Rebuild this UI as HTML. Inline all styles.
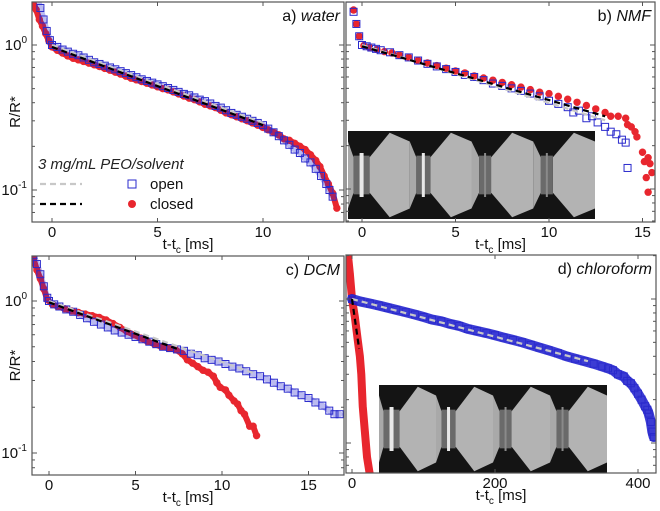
<!DOCTYPE html>
<html><head><meta charset="utf-8"><style>
body{margin:0;background:#fff;}
svg{display:block;font-family:"Liberation Sans",sans-serif;}
</style></head><body>
<svg id="fig" width="660" height="511" viewBox="0 0 660 511"></svg>
<script>
// ---- data (t in ms, R/R*) ----
const aOpenT=[-0.7,-0.55,-0.4,-0.25,-0.1,0,0.25,0.5,0.75,1,1.25,1.5,1.75,2,2.25,2.5,2.75,3,3.25,3.5,3.75,4,4.25,4.5,4.75,5,5.25,5.5,5.75,6,6.25,6.5,6.75,7,7.25,7.5,7.75,8,8.25,8.5,8.75,9,9.25,9.5,9.75,10,10.25,10.5,10.75,11,11.25,11.5,11.75,12,12.25,12.5,12.75,13,13.15,13.3];
const aOpenR=[2.1,1.8,1.5,1.25,1.08,1.0,0.97,0.93,0.9,0.87,0.85,0.82,0.79,0.76,0.74,0.72,0.70,0.68,0.66,0.64,0.62,0.60,0.58,0.565,0.55,0.535,0.52,0.505,0.49,0.475,0.46,0.45,0.435,0.42,0.41,0.395,0.38,0.37,0.355,0.34,0.33,0.32,0.31,0.30,0.29,0.28,0.265,0.25,0.235,0.22,0.205,0.19,0.18,0.165,0.155,0.14,0.125,0.11,0.10,0.09];
const aClosedT=[-0.9,-0.75,-0.6,-0.45,-0.3,-0.15,0,0.25,0.5,0.75,1,1.25,1.5,1.75,2,2.25,2.5,2.75,3,3.25,3.5,3.75,4,4.25,4.5,4.75,5,5.25,5.5,5.75,6,6.25,6.5,6.75,7,7.25,7.5,7.75,8,8.25,8.5,8.75,9,9.25,9.5,9.75,10,10.25,10.5,10.75,11,11.25,11.5,11.75,12,12.25,12.5,12.7,12.9,13.1,13.3,13.5];
const aClosedR=[2.0,1.75,1.5,1.35,1.2,1.07,0.97,0.92,0.88,0.84,0.81,0.79,0.77,0.75,0.73,0.71,0.69,0.67,0.65,0.63,0.61,0.59,0.575,0.56,0.545,0.53,0.515,0.50,0.49,0.475,0.46,0.445,0.43,0.42,0.405,0.39,0.38,0.37,0.355,0.34,0.33,0.32,0.31,0.30,0.29,0.28,0.27,0.26,0.25,0.24,0.225,0.22,0.21,0.20,0.19,0.175,0.16,0.145,0.125,0.11,0.095,0.075];
const bOpenT=[-0.6,-0.45,-0.3,-0.15,0,0.25,0.5,0.75,1,1.5,2,2.5,3,3.5,4,4.5,5,5.5,6,6.5,7,7.5,8,8.5,9,9.5,10,10.5,11,11.3,11.6,12,12.3,12.6,13,13.3,13.6,13.9,14.1,14.2];
const bOpenR=[2.1,1.7,1.4,1.15,1.0,0.98,0.96,0.94,0.92,0.89,0.85,0.82,0.78,0.74,0.71,0.68,0.65,0.62,0.60,0.57,0.54,0.52,0.50,0.48,0.46,0.44,0.41,0.39,0.37,0.34,0.35,0.31,0.32,0.29,0.27,0.25,0.24,0.22,0.21,0.14];
const bClosedT=[-0.6,-0.45,-0.3,-0.15,0.1,0.4,0.8,1.2,1.6,2,2.5,3,3.5,4,4.5,5,5.5,6,6.5,7,7.5,8,8.5,9,9.5,10,10.5,11,11.5,12,12.5,13,13.3,13.7,14.1,14.4,14.2,14.6,14.7,15,15.3,15.1,15.4,15.2,15.5,15.3,15.9];
const bClosedR=[2.2,1.75,1.4,1.15,0.99,0.96,0.93,0.90,0.88,0.85,0.82,0.78,0.75,0.72,0.69,0.66,0.64,0.61,0.59,0.57,0.55,0.53,0.51,0.49,0.47,0.46,0.44,0.42,0.40,0.38,0.36,0.34,0.32,0.32,0.31,0.27,0.28,0.25,0.23,0.18,0.165,0.155,0.15,0.12,0.13,0.095,0.082];
const cOpenT=[-0.9,-0.7,-0.5,-0.3,-0.1,0,0.3,0.6,1,1.4,1.8,2.2,2.6,3,3.4,3.8,4.2,4.6,5,5.4,5.8,6.2,6.6,7,7.4,7.8,8.2,8.6,9,9.4,9.8,10.2,10.6,11,11.4,11.8,12.2,12.6,13,13.4,13.8,14.2,14.6,15,15.4,15.8,16.2,16.5,16.8];
const cOpenR=[2.0,1.75,1.5,1.25,1.05,1.0,0.95,0.92,0.88,0.85,0.81,0.77,0.73,0.70,0.67,0.64,0.62,0.60,0.58,0.56,0.54,0.52,0.50,0.49,0.48,0.47,0.45,0.44,0.42,0.41,0.40,0.385,0.37,0.36,0.345,0.33,0.32,0.305,0.29,0.275,0.265,0.25,0.24,0.23,0.215,0.205,0.19,0.18,0.18];
const cClosedT=[-0.9,-0.7,-0.5,-0.3,-0.1,0.2,0.5,0.9,1.3,1.7,2.1,2.5,2.9,3.3,3.7,4.1,4.5,4.9,5.3,5.7,6.1,6.5,6.9,7.3,7.7,8,8.3,8.6,8.9,9.2,9.5,9.7,9.9,10.2,10.4,10.7,10.9,11.1,11.3,11.6,11.8,12];
const cClosedR=[1.9,1.6,1.4,1.2,1.02,0.95,0.92,0.89,0.86,0.84,0.82,0.80,0.78,0.75,0.71,0.67,0.63,0.60,0.57,0.54,0.52,0.50,0.49,0.48,0.45,0.41,0.39,0.37,0.35,0.34,0.32,0.29,0.27,0.26,0.24,0.22,0.21,0.19,0.18,0.15,0.15,0.13];
const dOpenT=[0,12,25,38,50,62,75,88,100,112,125,138,150,162,175,188,200,212,225,238,250,262,275,288,300,312,325,338,350,358,365,372,380,385,390,395,400,405,410,413,415,418,420,422];
const dOpenR=[1.0,0.96,0.93,0.90,0.87,0.84,0.81,0.78,0.75,0.72,0.70,0.67,0.65,0.62,0.60,0.58,0.56,0.54,0.52,0.50,0.48,0.46,0.44,0.42,0.40,0.385,0.37,0.355,0.34,0.33,0.32,0.30,0.29,0.27,0.26,0.24,0.22,0.20,0.18,0.17,0.16,0.14,0.12,0.11];
const dClosedT=[-5.6,-3,0,4,8,11,13,15,18,21,25];
const dClosedR=[2.0,1.5,1.0,0.75,0.52,0.40,0.30,0.18,0.12,0.08,0.06];
const fitsGray=[[0,1.0,10,0.29],[0,1.0,13,0.30],[0,1.0,12,0.33],[0,1.0,330,0.37]];
const fitsBlack=[[0,0.97,10,0.28],[0,0.98,13,0.32],[0,0.98,7.5,0.48],[0,1.0,10,0.45]];
const xTicks=[[0,5,10],[0,5,10,15],[0,5,10,15],[0,200,400]];
const titles=["a) ","b) ","c) ","d) "];
const solvents=["water","NMF","DCM","chloroform"];

const NS="http://www.w3.org/2000/svg";
const svg=document.getElementById('fig');
function mk(tag,attrs,parent){const e=document.createElementNS(NS,tag);for(const k in attrs)e.setAttribute(k,attrs[k]);(parent||svg).appendChild(e);return e;}

const panels=[
 {x0:32,x1:344,y0:2,y1:222,tA:0,pA:52,tB:10,pB:263,rA:45,rB:190,open:[aOpenT,aOpenR],closed:[aClosedT,aClosedR],ylab:true,bo:[6,0.3],bc:[6,1]},
 {x0:346,x1:655,y0:2,y1:222,tA:0,pA:362,tB:10,pB:549,rA:45,rB:189,open:[bOpenT,bOpenR],closed:[bClosedT,bClosedR],ylab:false,bo:null,bc:null},
 {x0:32,x1:344,y0:256,y1:475,tA:0,pA:49,tB:10,pB:222,rA:301,rB:453,open:[cOpenT,cOpenR],closed:[cClosedT,cClosedR],ylab:true,bo:[6,0.3],bc:[6,1]},
 {x0:346,x1:656,y0:255,y1:473,tA:0,pA:352,tB:400,pB:638,rA:299,rB:443,open:[dOpenT,dOpenR],closed:[dClosedT,dClosedR],ylab:false,bo:[10,0.85],bc:[8,1]}
];

function inset(g,x,y,w,h,n){
 const ig=mk('g',{},g);
 
 
 mk('rect',{x:x,y:y,width:w,height:h,fill:'#141414'},ig);
 const fw=w/n;
 for(let i=0;i<n;i++){
  const fx=x+i*fw;
  const nx=fx+fw*0.22;
  const nw=[4,3,2,2][i];
  mk('polygon',{points:`${fx},${y+h*0.12} ${nx-nw-4},${y+h*0.3} ${nx-nw-4},${y+h*0.7} ${fx},${y+h*0.88}`,fill:'#a9a9a9'},ig);
  const bl=nx+nw+4, br=fx+fw;
  mk('polygon',{points:`${bl},${y+h*0.3} ${(bl+br)/2},${y+h*0.02} ${br},${y+h*0.12} ${br},${y+h*0.88} ${(bl+br)/2},${y+h*0.98} ${bl},${y+h*0.7}`,fill:'#b3b3b3'},ig);
  mk('rect',{x:nx-nw-4,y:y+h*0.28,width:2*nw+8,height:h*0.44,fill:'#6a6a6a'},ig);
  mk('rect',{x:nx-nw/2,y:y+h*0.25,width:nw,height:h*0.5,fill:i<2?'#e8e8e8':'#8a8a8a'},ig);
 }
}

panels.forEach((p,i)=>{
 const g=mk('g',{});
 
 
 const X=t=>p.pA+(t-p.tA)*(p.pB-p.pA)/(p.tB-p.tA);
 const Y=r=>p.rA+(Math.log10(r)-0)*(p.rB-p.rA)/(-1);
 const clip='clip'+i;
 const cp=mk('clipPath',{id:clip},g);
 mk('rect',{x:p.x0,y:p.y0,width:p.x1-p.x0,height:p.y1-p.y0},cp);
 const plot=mk('g',{'clip-path':`url(#${clip})`},g);
 if(i==1) inset(plot,348,131,247,88,4);
 if(i==3) inset(plot,379,385,228,88,4);
 const band=(T,R,col,w,op)=>{const pts=T.map((t,k)=>X(t)+','+Y(R[k])).join(' ');
   return mk('polyline',{points:pts,fill:'none',stroke:col,'stroke-width':w,'stroke-opacity':op,'stroke-linejoin':'round','stroke-linecap':'round'},plot);};
 if(p.bc){
  const cb=band(p.closed[0],p.closed[1],'#e8262e',p.bc[0],p.bc[1]);
  
  
 }
 p.closed[0].forEach((t,k)=>{const c=mk('circle',{cx:X(t),cy:Y(p.closed[1][k]),r:3.7,fill:'#e8262e'},plot);
  
  });
 if(p.bo){
  const ob=band(p.open[0],p.open[1],'#1a1acc',p.bo[0],p.bo[1]);
  
  
 }
 p.open[0].forEach((t,k)=>{const s=mk('rect',{x:X(t)-3.5,y:Y(p.open[1][k])-3.5,width:7,height:7,fill:'none',stroke:'#2a2acc','stroke-width':1},plot);
  
  });
 const fg=fitsGray[i],fb=fitsBlack[i];
 const l1=mk('line',{x1:X(fg[0]),y1:Y(fg[1]),x2:X(fg[2]),y2:Y(fg[3]),stroke:'#c8c8c8','stroke-width':2.2,'stroke-dasharray':'6,4'},plot);
 
 
 const l2=mk('line',{x1:X(fb[0]),y1:Y(fb[1]),x2:X(fb[2]),y2:Y(fb[3]),stroke:'#000','stroke-width':2.2,'stroke-dasharray':'6,4'},plot);
 
 
 const fr=mk('rect',{x:p.x0,y:p.y0,width:p.x1-p.x0,height:p.y1-p.y0,fill:'none',stroke:'#555','stroke-width':1.2},g);
 
 
 [0.01,0.1,1].forEach(d=>{for(let m=1;m<10;m++){const v=d*m;const y=Y(v);if(y<p.y0||y>p.y1)continue;
   const L=m==1?5:3;
   mk('line',{x1:p.x0,y1:y,x2:p.x0+L,y2:y,stroke:'#555'},g);
   mk('line',{x1:p.x1,y1:y,x2:p.x1-L,y2:y,stroke:'#555'},g);
   if(m==1&&p.ylab){const tx=mk('text',{x:p.x0-5,y:y+5,'text-anchor':'end','font-size':15,fill:'#111'},g);
     tx.textContent='10';const sp=mk('tspan',{dy:-7,'font-size':10},tx);sp.textContent=(v==1?'0':'-1');
     
     }
 }});
 xTicks[i].forEach(t=>{const x=X(t);
  mk('line',{x1:x,y1:p.y1,x2:x,y2:p.y1-4,stroke:'#555'},g);
  mk('line',{x1:x,y1:p.y0,x2:x,y2:p.y0+4,stroke:'#555'},g);
  const tx=mk('text',{x:x,y:p.y1+15,'text-anchor':'middle','font-size':15,fill:'#111'},g);tx.textContent=t;
  
  });
 const xl=mk('text',{x:(p.x0+p.x1)/2,y:p.y1+27,'text-anchor':'middle','font-size':15,fill:'#111'},g);
 xl.textContent='t-t';const sb=mk('tspan',{dy:4,'font-size':10},xl);sb.textContent='c';
 const rest=mk('tspan',{dy:-4},xl);rest.textContent=' [ms]';
 
 
 if(p.ylab){const yl=mk('text',{x:0,y:0,transform:`translate(20,${(p.y0+p.y1)/2}) rotate(-90)`,'text-anchor':'middle','font-size':15,fill:'#111'},g);
  yl.textContent='R/R*';
  
  }
 const tt=mk('text',{x:p.x1-4,y:p.y0+19,'text-anchor':'end','font-size':16,fill:'#111'},g);
 tt.textContent=titles[i];const it=mk('tspan',{'font-style':'italic'},tt);it.textContent=solvents[i];
 
 
});

const lg=mk('g',{});


const lt=mk('text',{x:38,y:169,'font-size':15,'font-style':'italic',fill:'#222'},lg);lt.textContent='3 mg/mL PEO/solvent';
mk('line',{x1:40,y1:184,x2:82,y2:184,stroke:'#c8c8c8','stroke-width':2.2,'stroke-dasharray':'6,4'},lg);
mk('rect',{x:128,y:180,width:8,height:8,fill:'none',stroke:'#2a2acc'},lg);
const lo=mk('text',{x:150,y:189,'font-size':15,fill:'#111'},lg);lo.textContent='open';
mk('line',{x1:40,y1:204,x2:82,y2:204,stroke:'#000','stroke-width':2.2,'stroke-dasharray':'6,4'},lg);
mk('circle',{cx:132,cy:204,r:4,fill:'#e8262e'},lg);
const lc=mk('text',{x:150,y:209,'font-size':15,fill:'#111'},lg);lc.textContent='closed';
</script>
</body></html>
